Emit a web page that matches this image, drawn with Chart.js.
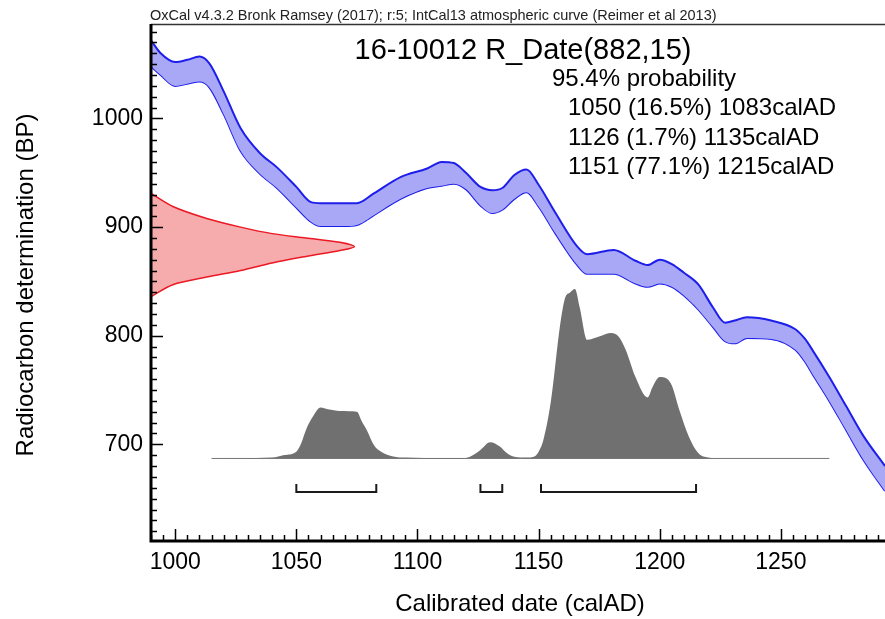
<!DOCTYPE html>
<html>
<head>
<meta charset="utf-8">
<script src="https://cdn.jsdelivr.net/npm/chart.js@4"></script>
<style>
html,body{margin:0;padding:0;background:#fff;}
#wrap{width:885px;height:619px;}
</style>
</head>
<body>
<div id="wrap"><canvas id="c" width="885" height="619"></canvas></div>
<script>
// ---- Calibration curve (IntCal13, 1-sigma band) ----
const calDates   = [990, 994, 1000, 1005, 1010, 1014, 1020, 1027, 1035, 1042, 1050, 1056, 1060, 1070, 1075, 1082, 1093, 1104, 1110, 1115, 1120, 1126, 1131, 1135, 1140, 1145, 1150, 1157, 1166, 1170, 1181, 1190, 1195, 1200, 1205, 1210, 1216, 1222, 1227, 1231, 1236, 1246, 1256, 1260, 1263, 1270, 1277, 1284, 1293];
const curveUpper = [1072, 1060, 1052, 1054, 1057, 1051, 1025, 991, 968, 955, 937, 923, 922, 922, 922, 931, 946, 954, 960, 959, 950, 937, 934, 936, 948, 953, 939, 913, 882, 875, 879, 869, 865, 870, 866, 858, 847, 826, 812, 814, 817, 814, 806, 797, 787, 762, 735, 708, 680];
const curveLower = [1048, 1040, 1030, 1032, 1034, 1029, 1004, 970, 949, 936, 918, 905, 901, 901, 902, 911, 926, 936, 938, 940, 935, 920, 913, 916, 926, 932, 919, 894, 865, 857, 857, 848, 845, 848, 845, 837, 824, 808, 795, 793, 798, 797, 787, 776, 765, 740, 713, 686, 657];

const dateBP    = [931, 919, 908, 900, 894, 890, 886, 882, 878.5, 873, 867, 860, 854, 847, 836];
const dateReach = [990, 999, 1013, 1027, 1040, 1054, 1068, 1074, 1068, 1054, 1040, 1027, 1013, 999, 990];

// ---- Calibrated probability distribution (relative density) ----
const probDates = [1015, 1040, 1045, 1050, 1052, 1054, 1057, 1060, 1063, 1068, 1075, 1077, 1079, 1082, 1085, 1090, 1095, 1110, 1120, 1123, 1126, 1130, 1134, 1137, 1140, 1145, 1148, 1150, 1152, 1155, 1159, 1161, 1163, 1165, 1167, 1170, 1175, 1180, 1183, 1186, 1190, 1195, 1197, 1200, 1203, 1205, 1208, 1212, 1216, 1220, 1225, 1270];
const probValues = [0, 0.005, 0.02, 0.04, 0.09, 0.17, 0.25, 0.30, 0.29, 0.28, 0.275, 0.22, 0.17, 0.08, 0.04, 0.012, 0.005, 0.002, 0.003, 0.02, 0.05, 0.095, 0.07, 0.03, 0.01, 0.005, 0.01, 0.04, 0.11, 0.33, 0.80, 0.95, 0.98, 1.0, 0.89, 0.70, 0.72, 0.74, 0.72, 0.64, 0.48, 0.36, 0.42, 0.48, 0.47, 0.43, 0.29, 0.13, 0.03, 0.005, 0, 0];

// ---- 95.4% ranges ----
const rangeFrom = [1050, 1126, 1151];
const rangeTo   = [1083, 1135, 1215];
const rangePct  = ['16.5', '1.7', '77.1'];

// ---- Axis ticks ----
const xTickLabels = [1000, 1050, 1100, 1150, 1200, 1250];
const yTickLabels = [700, 800, 900, 1000];

// ---- Texts ----
const headerText = 'OxCal v4.3.2 Bronk Ramsey (2017); r:5; IntCal13 atmospheric curve (Reimer et al 2013)';
const titleText = '16-10012 R_Date(882,15)';
const probText = '95.4% probability';
const xTitle = 'Calibrated date (calAD)';
const yTitle = 'Radiocarbon determination (BP)';

// ---- Layout / style constants ----
const X_MIN = 990, X_MAX = 1293, Y_MIN = 611, Y_MAX = 1087;
const PROB_BASE = 687, PROB_SCALE = 156;
const BRACKET_Y = 656, BRACKET_TOP = 663.5;
const FONT = "'Liberation Sans', Arial, Helvetica, sans-serif";

const pts = (xs, ys) => xs.map((v, i) => ({x: v, y: ys[i]}));

const bracketPts = [];
rangeFrom.forEach((f, i) => {
  const t = rangeTo[i];
  bracketPts.push({x: f, y: BRACKET_TOP}, {x: f, y: BRACKET_Y}, {x: t, y: BRACKET_Y}, {x: t, y: BRACKET_TOP}, {x: t, y: null});
});

const overlay = {
  id: 'overlay',
  afterDraw(chart) {
    const {ctx, chartArea: a, scales: {x, y}} = chart;
    ctx.save();
    // top frame line
    ctx.strokeStyle = '#333';
    ctx.lineWidth = 1.5;
    ctx.beginPath(); ctx.moveTo(a.left, a.top + 0.5); ctx.lineTo(a.right, a.top + 0.5); ctx.stroke();
    // ticks (inside)
    ctx.strokeStyle = '#000';
    ctx.lineWidth = 1.5;
    ctx.beginPath();
    for (let v = 620; v <= Y_MAX; v += 10) {
      const py = Math.round(y.getPixelForValue(v)) + 0.5;
      const len = (v % 100 === 0) ? 12 : 6;
      ctx.moveTo(a.left, py); ctx.lineTo(a.left + len, py);
    }
    for (let v = 990; v <= X_MAX; v += 5) {
      const px = Math.round(x.getPixelForValue(v)) + 0.5;
      const len = (v % 50 === 0) ? 12 : 6;
      ctx.moveTo(px, a.bottom); ctx.lineTo(px, a.bottom - len);
    }
    ctx.stroke();
    // axes
    ctx.lineWidth = 3;
    ctx.beginPath();
    ctx.moveTo(a.left, a.top); ctx.lineTo(a.left, a.bottom + 1.5);
    ctx.moveTo(a.left - 1.5, a.bottom); ctx.lineTo(a.right, a.bottom);
    ctx.stroke();
    // texts
    ctx.textBaseline = 'alphabetic';
    ctx.textAlign = 'left';
    ctx.font = '14.5px ' + FONT;
    ctx.fillStyle = '#222';
    ctx.fillText(headerText, 150, 20);
    ctx.fillStyle = '#000';
    ctx.textAlign = 'center';
    ctx.font = '29px ' + FONT;
    ctx.fillText(titleText, 523, 59);
    ctx.textAlign = 'left';
    ctx.font = '24px ' + FONT;
    ctx.fillText(probText, 552, 86);
    const bases = [115, 144.5, 174];
    rangeFrom.forEach((f, i) => {
      ctx.fillText(f + ' (' + rangePct[i] + '%) ' + rangeTo[i] + 'calAD', 568, bases[i]);
    });
    ctx.textAlign = 'center';
    ctx.fillText(xTitle, 520, 611);
    ctx.save();
    ctx.translate(32.5, 285);
    ctx.rotate(-Math.PI / 2);
    ctx.fillText(yTitle, 0, 0);
    ctx.restore();
    ctx.restore();
  }
};

new Chart(document.getElementById('c'), {
  type: 'line',
  data: {
    datasets: [
      { // brackets
        data: bracketPts, borderColor: '#1a1a1a', borderWidth: 2, pointRadius: 0,
        fill: false, spanGaps: false, order: 0
      },
      { // calibration curve upper
        data: pts(calDates, curveUpper), borderColor: 'rgb(30,30,235)', borderWidth: 2,
        backgroundColor: 'rgb(168,168,246)', pointRadius: 0, fill: '+1', order: 1,
        cubicInterpolationMode: 'monotone'
      },
      { // calibration curve lower
        data: pts(calDates, curveLower), borderColor: 'rgb(30,30,235)', borderWidth: 2,
        pointRadius: 0, fill: false, order: 1, cubicInterpolationMode: 'monotone'
      },
      { // radiocarbon date
        data: pts(dateReach, dateBP), borderColor: 'rgb(235,25,35)', borderWidth: 1.5,
        backgroundColor: 'rgb(246,172,172)', pointRadius: 0, fill: 'shape', order: 2, tension: 0.3
      },
      { // calibrated probability
        data: probDates.map((d, i) => ({x: d, y: PROB_BASE + probValues[i] * PROB_SCALE})),
        borderWidth: 0, borderColor: 'rgba(0,0,0,0)', backgroundColor: 'rgb(112,112,112)',
        pointRadius: 0, fill: {value: PROB_BASE}, order: 3, cubicInterpolationMode: 'monotone'
      },
      { // probability baseline
        data: [{x: probDates[0], y: PROB_BASE}, {x: probDates[probDates.length - 1], y: PROB_BASE}],
        borderColor: 'rgb(120,120,120)', borderWidth: 1, pointRadius: 0, fill: false, order: 4
      }
    ]
  },
  options: {
    responsive: false,
    animation: false,
    events: [],
    layout: {padding: {top: 24, right: 0, left: 0, bottom: 0}},
    plugins: {legend: {display: false}, tooltip: {enabled: false}},
    scales: {
      x: {
        type: 'linear', min: X_MIN, max: X_MAX,
        grid: {display: false, drawTicks: false},
        border: {display: false},
        ticks: {font: {family: FONT, size: 23}, color: '#000', padding: 8, maxRotation: 0, autoSkip: false,
                callback: v => String(v)},
        afterBuildTicks: s => { s.ticks = xTickLabels.map(v => ({value: v})); },
        afterFit: s => { s.height = 78; }
      },
      y: {
        type: 'linear', min: Y_MIN, max: Y_MAX,
        grid: {display: false, drawTicks: false},
        border: {display: false},
        ticks: {font: {family: FONT, size: 23}, color: '#000', padding: 8, autoSkip: false,
                callback: v => String(v)},
        afterBuildTicks: s => { s.ticks = yTickLabels.map(v => ({value: v})); },
        afterFit: s => { s.width = 151; }
      }
    }
  },
  plugins: [overlay]
});
</script>
</body>
</html>
